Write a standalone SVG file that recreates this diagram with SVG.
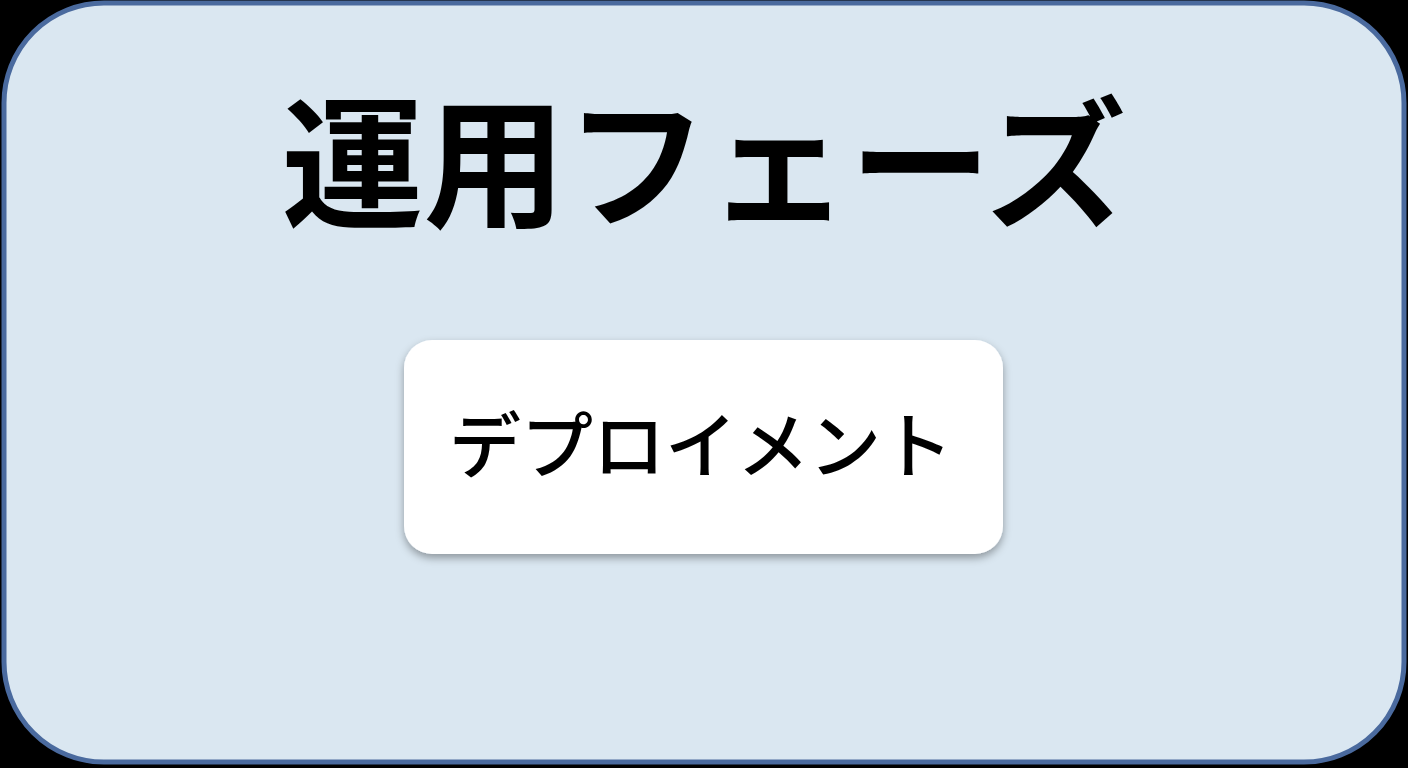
<svg xmlns="http://www.w3.org/2000/svg" width="1408" height="768" viewBox="0 0 1408 768">
<style>
.jp{font-family:"Noto Sans CJK JP","Noto Sans",sans-serif;fill:#000;text-anchor:middle}
</style>
<defs>
<filter id="sh" x="-10%" y="-10%" width="120%" height="130%">
<feDropShadow dx="0" dy="4" stdDeviation="4" flood-color="#000" flood-opacity="0.35"/>
</filter>
</defs>
<rect width="1408" height="768" fill="#000"/>
<g id="phase">
<rect x="4" y="3" width="1400" height="759" rx="100" ry="100" fill="#dae7f1" stroke="#4a6a9e" stroke-width="5"/>
<text class="jp" x="704" y="217" font-size="142" font-weight="700">運用フェーズ</text>
</g>
<g id="deploy">
<rect x="404" y="340" width="599" height="214" rx="28" ry="28" fill="#fff" filter="url(#sh)"/>
<text class="jp" x="701" y="472" font-size="72" font-weight="500">デプロイメント</text>
</g>
<g id="connectors"/>
</svg>
